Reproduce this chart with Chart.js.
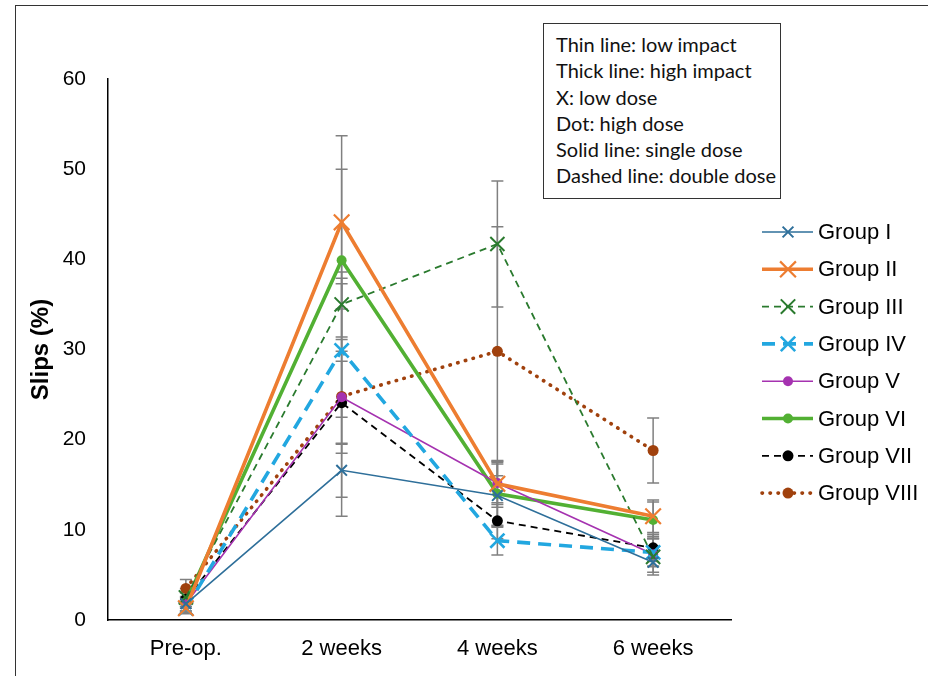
<!DOCTYPE html>
<html>
<head>
<meta charset="utf-8">
<script src="https://cdn.jsdelivr.net/npm/chart.js@4.4.0/dist/chart.umd.min.js"></script>
<style>
  html, body { margin: 0; padding: 0; background: #fff; }
  #wrap { position: relative; width: 928px; height: 676px; overflow: hidden; }
  #frame { position: absolute; left: 15px; top: 5px; width: 930px; height: 700px; border: 1.5px solid #333; box-sizing: border-box; }
  #c { position: absolute; left: 0; top: 0; }
  #note { position: absolute; left: 543px; top: 23px; width: 238px; height: 176px; border: 1.3px solid #333; box-sizing: border-box; background: #fff;
          font-family: Lato, "Open Sans", sans-serif; font-size: 20px; line-height: 26.3px; color: #111; padding: 7px 0 0 12px; white-space: nowrap; }
</style>
</head>
<body>
<div id="wrap">
  <div id="frame"></div>
  <canvas id="c" width="928" height="676"></canvas>
  <div id="note">
    <div>Thin line: low impact</div>
    <div>Thick line: high impact</div>
    <div>X: low dose</div>
    <div>Dot: high dose</div>
    <div>Solid line: single dose</div>
    <div>Dashed line: double dose</div>
  </div>
</div>
<script>
const categories = ['Pre-op.', '2 weeks', '4 weeks', '6 weeks'];
const yTicks = [0, 10, 20, 30, 40, 50, 60];
const groupNames = ['Group I', 'Group II', 'Group III', 'Group IV', 'Group V', 'Group VI', 'Group VII', 'Group VIII'];

const groupI    = [1.8, 16.6, 13.8, 6.4];
const groupII   = [1.3, 44.1, 15.1, 11.5];
const groupIII  = [2.5, 35.0, 41.7, 7.0];
const groupIV   = [1.3, 29.9, 8.8, 7.5];
const groupV    = [1.8, 24.7, 15.2, 7.3];
const groupVI   = [2.0, 39.9, 14.0, 11.1];
const groupVII  = [2.3, 24.1, 11.0, 8.0];
const groupVIII = [3.5, 24.8, 29.8, 18.8];

const errI    = [0.5, 3.0, 3.5, 0.5];
const errII   = [0.6, 9.6, 2.6, 1.8];
const errIII  = [1.0, 3.6, 7.0, 2.0];
const errIV   = [0.5, 7.4, 1.6, 1.5];
const errV    = [0.8, 13.2, 2.4, 2.0];
const errVI   = [1.0, 10.1, 3.5, 2.0];
const errVII  = [0.8, 4.6, 2.0, 1.5];
const errVIII = [1.0, 6.3, 13.8, 3.6];

const seriesValues = [groupI, groupII, groupIII, groupIV, groupV, groupVI, groupVII, groupVIII];
const seriesErrors = [errI, errII, errIII, errIV, errV, errVI, errVII, errVIII];

const styles = [
  { color: '#2E6F9A', width: 1.6, dash: [], style: 'crossRot', r: 7.5, pbw: 2 },
  { color: '#ED7D31', width: 3.6, dash: [], style: 'crossRot', r: 11, pbw: 2.2 },
  { color: '#2A7A2E', width: 1.8, dash: [7, 5], style: 'crossRot', r: 10, pbw: 2 },
  { color: '#22A7E0', width: 3.6, dash: [13, 8], style: 'crossRot', r: 10, pbw: 2.6 },
  { color: '#A532B0', width: 1.6, dash: [], style: 'circle', r: 5, pbw: 0 },
  { color: '#52B033', width: 3.6, dash: [], style: 'circle', r: 5, pbw: 0 },
  { color: '#000000', width: 1.8, dash: [7, 5], style: 'circle', r: 5.5, pbw: 0 },
  { color: '#A0410D', width: 3.6, dash: [0.5, 7.5], style: 'circle', r: 5.5, pbw: 0 }
];

const datasets = seriesValues.map((vals, i) => ({
  label: groupNames[i],
  data: vals,
  borderColor: styles[i].color,
  backgroundColor: styles[i].color,
  borderWidth: styles[i].width,
  borderDash: styles[i].dash,
  borderCapStyle: i === 7 ? 'round' : 'butt',
  pointStyle: styles[i].style,
  pointRadius: styles[i].r,
  pointBorderWidth: styles[i].pbw,
  pointBorderColor: styles[i].color,
  pointBackgroundColor: styles[i].color,
  pointHoverRadius: styles[i].r,
  tension: 0,
  fill: false
}));

const errorBars = {
  id: 'errorBars',
  beforeDatasetsDraw(chart) {
    const ctx = chart.ctx;
    const ys = chart.scales.y;
    ctx.save();
    ctx.strokeStyle = '#808080';
    ctx.lineWidth = 1.5;
    ctx.setLineDash([]);
    seriesValues.forEach((vals, i) => {
      const meta = chart.getDatasetMeta(i);
      vals.forEach((v, j) => {
        const e = seriesErrors[i][j];
        const x = meta.data[j].x;
        const yt = ys.getPixelForValue(v + e);
        const yb = ys.getPixelForValue(v - e);
        ctx.beginPath();
        ctx.moveTo(x, yt); ctx.lineTo(x, yb);
        ctx.moveTo(x - 6, yt); ctx.lineTo(x + 6, yt);
        ctx.moveTo(x - 6, yb); ctx.lineTo(x + 6, yb);
        ctx.stroke();
      });
    });
    ctx.restore();
  }
};

const customLegend = {
  id: 'customLegend',
  afterDraw(chart) {
    const ctx = chart.ctx;
    ctx.save();
    datasets.forEach((ds, i) => {
      const y = 232 + i * 37.3;
      const st = styles[i];
      ctx.strokeStyle = st.color;
      ctx.lineWidth = st.width;
      ctx.setLineDash(st.dash);
      ctx.lineCap = i === 7 ? 'round' : 'butt';
      ctx.beginPath();
      ctx.moveTo(762, y); ctx.lineTo(813, y);
      ctx.stroke();
      ctx.setLineDash([]);
      ctx.lineCap = 'butt';
      const cx = 788;
      if (st.style === 'crossRot') {
        const d = st.r * 0.72;
        ctx.lineWidth = st.pbw;
        ctx.beginPath();
        ctx.moveTo(cx - d, y - d); ctx.lineTo(cx + d, y + d);
        ctx.moveTo(cx + d, y - d); ctx.lineTo(cx - d, y + d);
        ctx.stroke();
      } else {
        ctx.fillStyle = st.color;
        ctx.beginPath();
        ctx.arc(cx, y, st.r, 0, Math.PI * 2);
        ctx.fill();
      }
      ctx.fillStyle = '#000';
      ctx.font = '22px "Liberation Sans", Arial, sans-serif';
      ctx.textBaseline = 'middle';
      ctx.textAlign = 'left';
      ctx.fillText(ds.label, 818, y + 1);
    });
    ctx.restore();
  }
};

new Chart(document.getElementById('c'), {
  type: 'line',
  data: { labels: categories, datasets: datasets },
  options: {
    responsive: false,
    devicePixelRatio: 1,
    animation: false,
    layout: { padding: { left: 0, top: 79, right: 197, bottom: 0 } },
    plugins: { legend: { display: false }, tooltip: { enabled: false } },
    scales: {
      x: {
        offset: true,
        grid: { display: false, drawTicks: false },
        border: { display: true, color: '#000', width: 1.5 },
        ticks: { color: '#000', font: { family: '"Liberation Sans", Arial, sans-serif', size: 22 }, padding: 16 },
        afterFit(scale) { scale.height = 56; }
      },
      y: {
        min: 0, max: 60,
        afterBuildTicks(scale) { scale.ticks = yTicks.map(v => ({ value: v })); },
        grid: { display: false, drawTicks: false },
        border: { display: true, color: '#000', width: 1.5 },
        ticks: { color: '#000', font: { family: '"Liberation Sans", Arial, sans-serif', size: 21 }, padding: 22 },
        title: { display: true, text: 'Slips (%)', color: '#000', font: { family: '"Liberation Sans", Arial, sans-serif', size: 24, weight: 'bold' }, padding: { top: 27, bottom: 0 } },
        afterFit(scale) { scale.width = 108; }
      }
    }
  },
  plugins: [errorBars, customLegend]
});
</script>
</body>
</html>
